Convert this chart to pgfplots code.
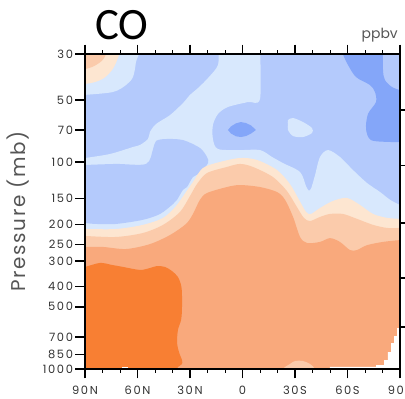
\documentclass[border=0pt]{standalone}
\usepackage{pgfplots}
\pgfplotsset{compat=1.18}
\usepackage{fontspec}
\setmainfont{Poppins}
\newfontfamily\tickfont[LetterSpace=14]{Poppins}
\newfontfamily\labelfont[LetterSpace=8]{Poppins}
\newfontfamily\titlefont{Carlito}

% contour level colours, lowest to highest mixing ratio
\definecolor{lvdark}{HTML}{84A6F9}
\definecolor{lvmed}{HTML}{B4CAFC}
\definecolor{lvpale}{HTML}{D8E8FD}
\definecolor{lvcream}{HTML}{FDE6D1}
\definecolor{lvpeach}{HTML}{FBCBAB}
\definecolor{lvsalmon}{HTML}{F9A97C}
\definecolor{lvorange}{HTML}{F87F33}
\definecolor{labelgray}{HTML}{333333}
\definecolor{unitgray}{HTML}{555555}

\pgfplotsset{
  region/.style={draw=none, mark=none, fill=#1},
  sregion/.style={draw=none, mark=none, fill=#1, smooth, tension=0.5},
}

\begin{document}
\begin{tikzpicture}
\begin{axis}[
  name=main,
  scale only axis, width=315bp, height=315bp,
  xmin=-90, xmax=90, x dir=reverse,
  ymode=log, ymin=30, ymax=1000, y dir=reverse,
  xtick={-90,-60,-30,0,30,60,90},
  xticklabels={90S,60S,30S,0,30N,60N,90N},
  minor xtick={-80,-70,-50,-40,-20,-10,10,20,40,50,70,80},
  ytick={30,50,70,100,150,200,250,300,400,500,700,850,1000},
  yticklabels={30,50,70,100,150,200,250,300,400,500,700,850,1000},
  minor y tick num=0,
  xtick pos=both, ytick pos=left,
  tick align=outside,
  major tick length=9.5bp, minor tick length=4bp,
  major tick style={line width=1.6bp, black},
  minor tick style={line width=0.9bp, black},
  axis line style={line width=1.8bp},
  tick label style={font=\tickfont\fontsize{11.5}{13}\selectfont, text=labelgray},
  xticklabel style={yshift=-4.5bp},
  yticklabel style={xshift=1bp},
  axis on top,
]
% background level
\addplot[region=lvmed] coordinates {(93,28) (-93,28) (-93,1100) (93,1100)} -- cycle;

% pale level: tongue from the top, band above the tropopause
\addplot[sregion=lvpale] coordinates {
 (14,28) (14,33.9) (19.7,39.2) (25.4,43.8) (30,47.3) (34,51.8) (41.4,59.2)
 (49.4,65.4) (52.9,71.5) (54,77.3) (58.6,82.6) (62.6,84.5) (75.7,91.3)
 (90,95.5) (93,96) (93,1100) (-93,1100) (-93,163) (-90,161) (-84.3,152)
 (-78.6,139.4) (-71.1,126) (-63.1,109.1) (-55.7,94.4) (-48.9,87.4)
 (-44.3,94.4) (-41.4,116) (-39.2,134) (-37.8,137) (-36.2,130) (-32.9,111.6)
 (-23.1,101) (-16.9,94.4) (-10,87.4) (1.4,87.4) (14,86.4) (16.9,77.3)
 (16.9,66.1) (14,58.5) (8.3,54.1) (-3.1,51.2) (-10,49.5) (-10,28)} -- cycle;

% medium blob over the northern mid-latitudes
\addplot[sregion=lvmed] coordinates {
 (93,103.5) (90,103.2) (72.3,102) (55.1,102) (51.1,86.4) (49.4,79)
 (43.7,77.3) (34,78.2) (24.3,85.4) (20.3,94.4) (19.7,101) (24.3,112.9)
 (28.3,118) (31.7,131.9) (34,136) (37.4,152) (39.7,159.4) (47.1,178)
 (56.9,190) (72.3,199) (83.7,199) (90,197) (93,197)} -- cycle;

% north polar corner
\addplot[sregion=lvpale] coordinates {
 (93,28) (60.9,28) (60.9,32.8) (62.6,38.8) (66.6,42.4) (74,45.8) (90,47.3) (93,47.5)} -- cycle;
\addplot[sregion=lvcream] coordinates {
 (93,28) (71.1,28) (71.7,32.1) (74.6,35.9) (79.1,39.2) (84.3,41) (90,41.9) (93,42)} -- cycle;
\addplot[sregion=lvpeach] coordinates {
 (93,28) (78,28) (79.1,31.4) (82,33.2) (86,34.7) (90,35.5) (93,35.7)} -- cycle;

% small pale island near 30S
\addplot[sregion=lvpale] coordinates {
 (-26,66) (-26,62.6) (-28.9,61.2) (-34.6,64) (-39.7,68.4) (-39.7,72.3)
 (-34.6,75.6) (-28.9,74.8) (-26,69.9) (-26,66)} -- cycle;

% low-value cells
\addplot[region=lvdark] coordinates {
 (8.3,69.9) (6.6,67.2) (3.7,64.9) (0.9,64) (-2,64.7) (-4.9,66.5) (-7.7,69.9)
 (-4.9,72.7) (-2,74.8) (0.9,75.6) (3.7,75) (6.6,72.7)} -- cycle;
\addplot[sregion=lvdark] coordinates {
 (-57.4,28) (-57.4,30) (-60.3,33.9) (-64.9,38.8) (-72.9,42.4) (-75.7,45.8)
 (-76.3,51.2) (-71.7,58.5) (-70.6,69.1) (-73.4,78.2) (-84.3,79.9) (-90,79.9)
 (-93,80) (-93,44.6) (-90,44.8) (-85.4,43.3) (-81.4,40.1) (-80.3,35.9) (-80.3,28)} -- cycle;

% troposphere levels
\addplot[sregion=lvcream] coordinates {
 (93,211) (90,210.5) (72.3,210.5) (56.9,201) (45.4,186) (38,163) (32.3,139.4)
 (28.3,124.7) (22.6,106.7) (12.9,99.8) (1.4,95.5) (-8.3,97.6) (-19.7,109.1)
 (-27.1,127.6) (-32.3,152) (-36.3,174) (-39.1,178) (-44.3,166.6) (-51.7,154)
 (-59.7,149) (-67.1,161) (-74.6,178) (-82.6,186) (-90,188) (-93,188)
 (-93,1100) (93,1100)} -- cycle;
\addplot[sregion=lvpeach] coordinates {
 (93,227.5) (90,227.5) (72.3,230) (56.9,220) (45.4,201) (35.7,174) (30,145.8)
 (26,127.6) (20.3,112.9) (8.9,105.5) (1.4,102) (-6,105.5) (-17.4,118)
 (-25.4,137.9) (-31.1,164.8) (-35.1,186) (-38.6,192.6) (-44.3,184) (-50,178)
 (-57.4,178) (-65.4,188) (-74.6,201) (-82.6,208) (-90,208) (-93,208)
 (-93,1100) (93,1100)} -- cycle;
\addplot[sregion=lvsalmon] coordinates {
 (93,257) (90,257) (79.7,257) (66.6,263) (52.9,249) (41.4,225) (32.3,199)
 (28.3,178) (24.3,152) (20.3,141) (8.9,131.9) (1.4,129) (-10,131.9)
 (-19.7,139.4) (-24.3,152) (-28.9,184) (-32.9,230) (-36.9,246) (-44.3,243)
 (-50,233) (-55.7,243) (-61.4,266) (-65.4,266) (-71.1,252) (-80.3,243)
 (-90,238) (-93,238) (-93,1100) (93,1100)} -- cycle;
\addplot[sregion=lvorange] coordinates {
 (93,321) (90,321) (81.4,307) (74.6,314) (68.3,321) (58.6,332) (52.9,325)
 (48.9,318) (44.3,321) (40.3,336) (36.9,359) (35.1,393) (34.6,429) (34.6,519)
 (35.1,580) (36.9,648) (37.4,749) (36.3,828) (34.6,905) (34.6,946) (36.9,978)
 (37.4,1000) (37.4,1100) (93,1100)} -- cycle;
\addplot[sregion=lvpeach] coordinates {
 (-22,1100) (-23.1,1000) (-27.1,946) (-30,915) (-34.6,915) (-38.6,946)
 (-41.4,1000) (-42,1100)} -- cycle;

% missing values below the surface
\addplot[region=white] coordinates {
 (-93,634) (-88.3,634) (-88.3,693) (-86.6,693) (-86.6,749) (-84.9,749)
 (-84.9,828) (-83.1,828) (-83.1,905) (-80.9,905) (-80.9,957) (-76.3,957)
 (-76.3,978) (-50,978) (-50,1100) (-93,1100)} -- cycle;
\addplot[region=white] coordinates {(68.9,978) (65.4,978) (65.4,1100) (68.9,1100)} -- cycle;
\end{axis}

% height ticks on the right-hand side
\begin{axis}[
  scale only axis, width=315bp, height=315bp,
  xmin=-90, xmax=90,
  ymode=log, ymin=30, ymax=1000, y dir=reverse,
  xtick=\empty, ytick={56,104,197,363,627}, yticklabels={},
  minor y tick num=0,
  ytick pos=right, tick align=outside,
  major tick length=6bp,
  major tick style={line width=1.6bp, black},
  axis line style={line width=1.8bp},
]
\end{axis}

\path (main.north west) ++(10bp,14bp)
  node[anchor=base west, inner sep=0, font=\titlefont\fontsize{45}{45}\selectfont] {CO};
\path (main.north east) ++(-2bp,15bp)
  node[anchor=base east, inner sep=0, text=unitgray, font=\fontsize{14}{16}\selectfont] {ppbv};
\path (main.west) ++(-67bp,0)
  node[rotate=90, inner sep=0, text=unitgray, font=\labelfont\fontsize{20}{23}\selectfont] {Pressure (mb)};

\path (main.south west) ++(-85bp,-30bp) coordinate (bbsw);
\path (main.north east) ++(5bp,54bp) coordinate (bbne);
\pgfresetboundingbox
\useasboundingbox (bbsw) rectangle (bbne);
\end{tikzpicture}
\end{document}
